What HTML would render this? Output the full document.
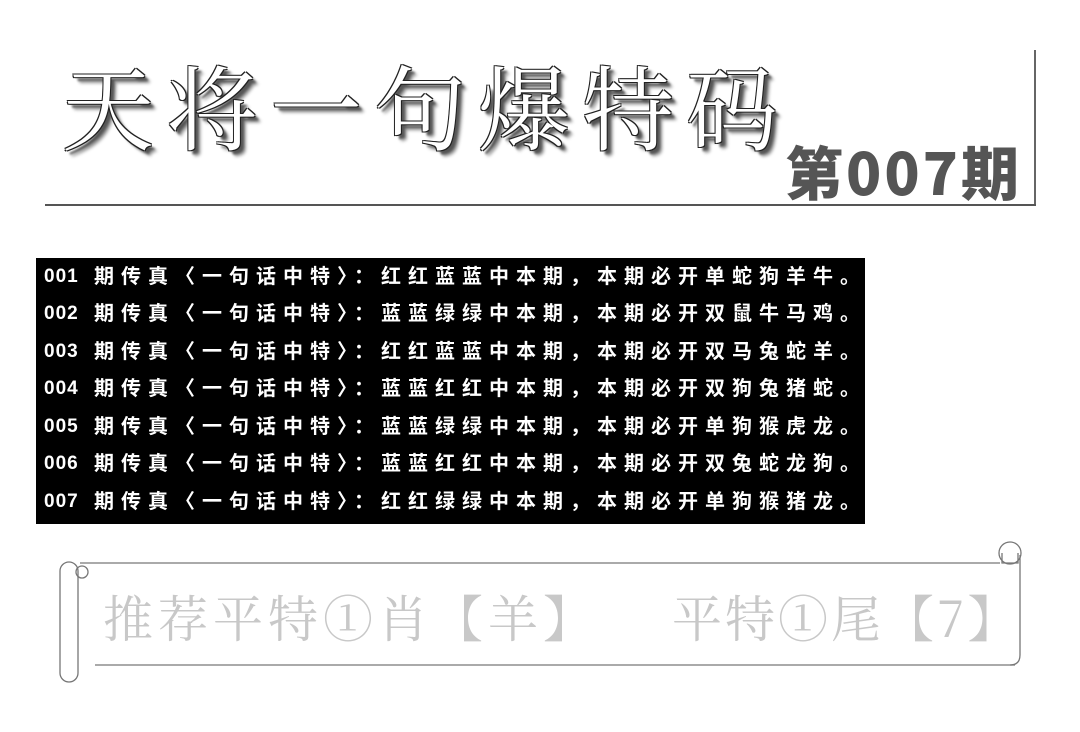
<!DOCTYPE html>
<html><head><meta charset="utf-8"><style>
body{margin:0;width:1080px;height:732px;background:#fff;position:relative;overflow:hidden;font-family:"Liberation Sans","Noto Sans CJK SC",sans-serif}
.t{position:absolute;white-space:nowrap}
#title{left:62px;top:38px;font-size:92px;font-family:"Noto Serif CJK SC",serif;color:#fff;letter-spacing:12px;
text-shadow:-1px -1px 0 #222,1px -1px 0 #222,-1px 1px 0 #222,1px 1px 0 #222,4px 4px 2px #555,6px 6px 3px #999}
#qi{left:785px;top:128px;font-size:58px;font-weight:900;color:#555;letter-spacing:3px;font-family:"Noto Sans CJK SC",sans-serif}
#box{position:absolute;left:36px;top:258px;width:829px;height:266px;background:#000}
.r{position:absolute;left:44px;color:#fff;font-size:20px;font-weight:bold;white-space:nowrap;line-height:24px}
.r b{position:absolute;left:0;top:0;font-size:19px;letter-spacing:1px}
.r i{position:absolute;left:50px;top:0;font-style:normal;letter-spacing:7px}
.s{font-family:"Noto Serif CJK SC",serif;color:#c8c8c8;font-size:50px}
</style></head><body>
<div style="position:absolute;left:1034px;top:50px;width:2px;height:156px;background:#666"></div>
<div style="position:absolute;left:45px;top:204px;width:991px;height:2px;background:#555"></div>
<div class="t" id="title">天将一句爆特码</div>
<div class="t" id="qi">第007期</div>
<div id="box"></div>
<div class="r" style="top:265px"><b>001</b><i>期传真〈一句话中特〉：红红蓝蓝中本期，本期必开单蛇狗羊牛。</i></div>
<div class="r" style="top:302px"><b>002</b><i>期传真〈一句话中特〉：蓝蓝绿绿中本期，本期必开双鼠牛马鸡。</i></div>
<div class="r" style="top:340px"><b>003</b><i>期传真〈一句话中特〉：红红蓝蓝中本期，本期必开双马兔蛇羊。</i></div>
<div class="r" style="top:377px"><b>004</b><i>期传真〈一句话中特〉：蓝蓝红红中本期，本期必开双狗兔猪蛇。</i></div>
<div class="r" style="top:415px"><b>005</b><i>期传真〈一句话中特〉：蓝蓝绿绿中本期，本期必开单狗猴虎龙。</i></div>
<div class="r" style="top:452px"><b>006</b><i>期传真〈一句话中特〉：蓝蓝红红中本期，本期必开双兔蛇龙狗。</i></div>
<div class="r" style="top:490px"><b>007</b><i>期传真〈一句话中特〉：红红绿绿中本期，本期必开单狗猴猪龙。</i></div>
<svg style="position:absolute;left:0;top:0" width="1080" height="732">
<g fill="none" stroke="#777" stroke-width="1.3">
<path d="M80 563 H1000"/>
<path d="M95 665 H1015"/>
<rect x="45" y="562" width="18" height="120" rx="9" transform="translate(15 0)"/>
<circle cx="82" cy="572" r="6"/>
<path d="M1020 555 V655 Q1020 665 1010 665"/>
<circle cx="1010" cy="553" r="11"/>
<path d="M1002 553 V563 H1018 V553"/>
</g>
</svg>
<div class="t s" style="left:103px;top:580px;letter-spacing:5px">推荐平特①肖【羊】</div>
<div class="t s" style="left:672px;top:580px;letter-spacing:3px">平特①尾【7】</div>
</body></html>
